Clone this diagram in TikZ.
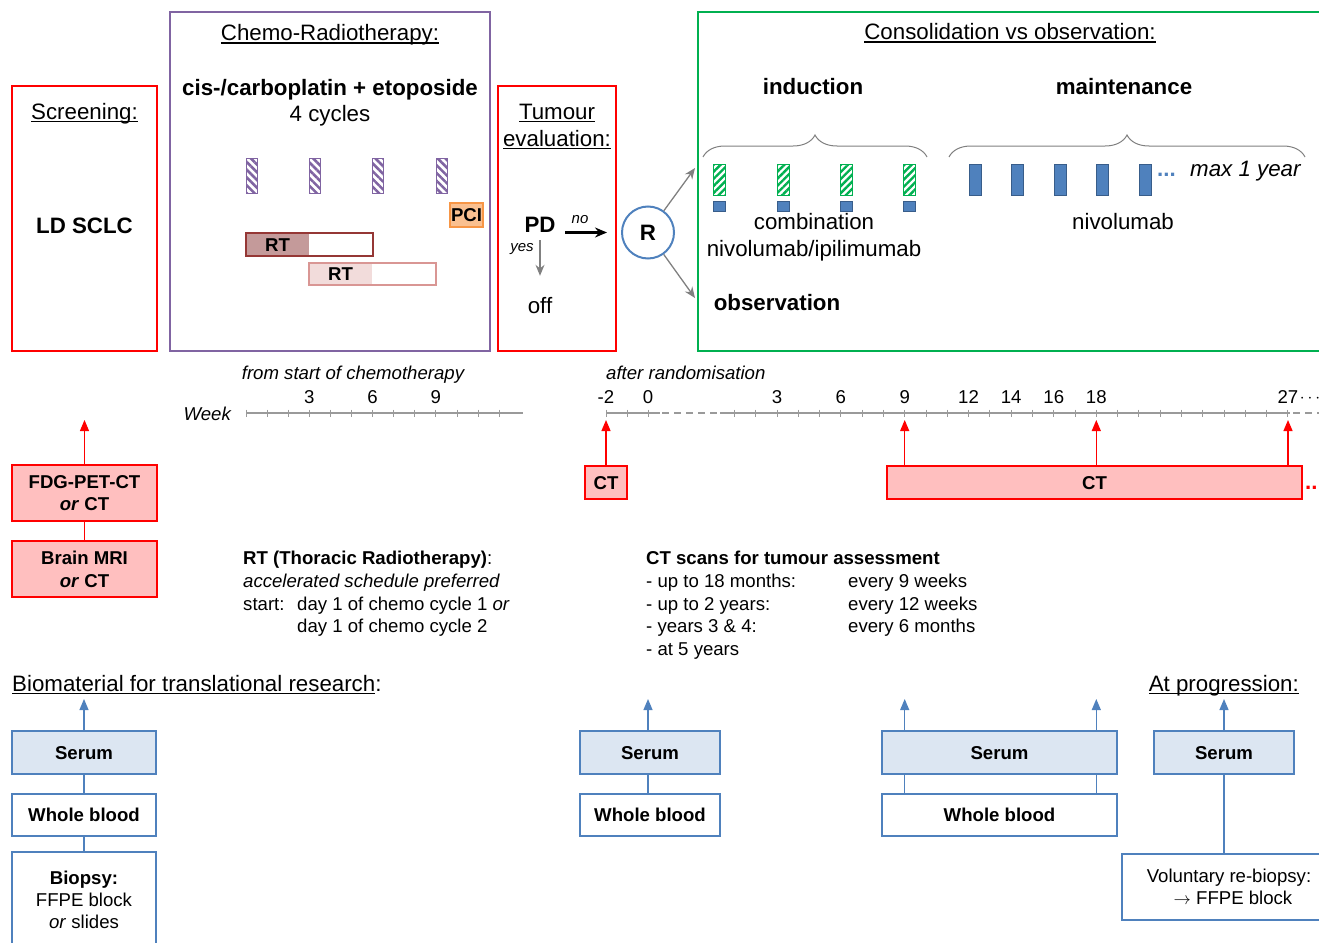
\documentclass[tikz,border=0pt]{standalone}
\usepackage{fontspec}
\setmainfont{Liberation Sans}
\usetikzlibrary{arrows.meta,patterns.meta,decorations.pathreplacing}

\definecolor{frred}{HTML}{FF0000}
\definecolor{frpurple}{HTML}{8064A2}
\definecolor{frgreen}{HTML}{00B050}
\definecolor{ctpink}{HTML}{FFBFBF}
\definecolor{bioblue}{HTML}{4F81BD}
\definecolor{serumfill}{HTML}{DCE6F2}
\definecolor{rtdark}{HTML}{C49A9A}
\definecolor{rtdarkline}{HTML}{953735}
\definecolor{rtlight}{HTML}{F2DCDB}
\definecolor{rtlightline}{HTML}{D99694}
\definecolor{pcifill}{HTML}{FAC090}
\definecolor{pciline}{HTML}{F79646}
\definecolor{barline}{HTML}{385D8A}
\definecolor{arrgray}{HTML}{808080}
\definecolor{axgray}{HTML}{9A9A9A}

\newcommand\fbig{\fontsize{22.3}{27}\selectfont}
\newcommand\fsmall{\fontsize{18.6}{22.7}\selectfont}
\newcommand\ftiny{\fontsize{15}{18}\selectfont}
\newcommand\undl[1]{\sbox0{#1}\rlap{\rule[-2.8pt]{\wd0}{1.3pt}}\usebox0}

\tikzset{
  txt/.style={inner sep=0pt, text height=16pt, text depth=0pt, font=\fbig},
  stxt/.style={inner sep=0pt, text height=13.3pt, text depth=0pt, font=\fsmall},
  phase/.style={draw, line width=2.5pt, inner sep=0pt},
  chemobar/.style={draw=frpurple, line width=1pt, minimum width=11, minimum height=35, inner sep=0pt,
    pattern={Lines[angle=-45,distance=5.5pt,line width=2.6pt]}, pattern color=frpurple},
  indbar/.style={draw=frgreen, line width=1pt, minimum width=12, minimum height=31, inner sep=0pt,
    pattern={Lines[angle=45,distance=5pt,line width=2.4pt]}, pattern color=frgreen},
  nivobar/.style={draw=barline, fill=bioblue, line width=0.8pt, minimum width=12, minimum height=31, inner sep=0pt},
  nivosq/.style={nivobar, minimum height=10},
  ctbox/.style={draw=frred, fill=ctpink, line width=1.3pt, stxt, font=\fsmall\bfseries, minimum height=33},
  scanbox/.style={draw=frred, fill=ctpink, line width=1.3pt, inner sep=0pt, font=\fsmall\bfseries,
    minimum width=145, minimum height=56, align=center},
  serum/.style={draw=bioblue, fill=serumfill, line width=1.2pt, stxt, font=\fsmall\bfseries, minimum height=43},
  blood/.style={draw=bioblue, fill=white, line width=1.2pt, stxt, font=\fsmall\bfseries, minimum height=42},
  biobox/.style={draw=bioblue, line width=1.2pt, inner sep=0pt, align=center, font=\fontsize{18.6}{22}\selectfont},
  redarr/.style={draw=frred, line width=1.2pt, -{Triangle[length=11pt,width=9pt]}},
  bioarr/.style={draw=bioblue, line width=1.2pt, -{Triangle[length=11pt,width=9pt]}},
  grayarr/.style={draw=arrgray, line width=1.3pt, -{Stealth[length=11pt,width=9pt]}},
  bioline/.style={draw=bioblue, line width=1.2pt},
  axisline/.style={draw=axgray, line width=2pt},
  gapline/.style={axisline, dash pattern=on 7pt off 5pt},
  tickmark/.style={draw=axgray, line width=0.9pt},
  curly/.style={draw=arrgray, line width=1pt, decorate, decoration={brace, amplitude=22pt}}
}

\begin{document}
\begin{tikzpicture}[x=1pt,y=-1pt]
\useasboundingbox (0,0) rectangle (1319,942);
\clip (0,0) rectangle (1319,942);

% phase frames
\node[phase, draw=frred, minimum width=145, minimum height=265] (scr) at (84.5,218.5) {};
\node[phase, draw=frpurple, minimum width=320, minimum height=339] (chemo) at (330,181.5) {};
\node[phase, draw=frred, minimum width=118, minimum height=265] (tumour) at (557,218.5) {};
\node[phase, draw=frgreen, minimum width=640, minimum height=339] (consol) at (1018,181.5) {};

% screening
\node[txt] (scrtitle) at (84.5,111) {\undl{Screening:}};
\node[txt, font=\fbig\bfseries] (ldsclc) at (84.5,225) {LD SCLC};

% chemo-radiotherapy
\node[txt] (chemotitle) at (330,33) {\undl{Chemo-Radiotherapy:}};
\node[txt, font=\fbig\bfseries] (regimen) at (330,87) {cis-/carboplatin + etoposide};
\node[txt] (cycles) at (330,113) {4 cycles};
\foreach \i/\x in {1/251.5,2/314.5,3/378,4/441.5}
  \node[chemobar] (c\i) at (\x,175.5) {};
\node[draw=pciline, fill=pcifill, line width=1.2pt, minimum width=33, minimum height=24, stxt, font=\fsmall\bfseries] (pci) at (466.5,215) {PCI};
\node[fill=rtdark, minimum width=63, minimum height=23, stxt, font=\fsmall\bfseries] (rt1) at (277.5,244.5) {RT};
\node[draw=rtdarkline, line width=1.3pt, minimum width=127, minimum height=23, inner sep=0pt] (rt1f) at (309.5,244.5) {};
\node[fill=rtlight, minimum width=63, minimum height=22, stxt, font=\fsmall\bfseries] (rt2) at (340.5,274) {RT};
\node[draw=rtlightline, line width=1.3pt, minimum width=127, minimum height=22, inner sep=0pt] (rt2f) at (372.5,274) {};

% tumour evaluation
\node[txt] (tumtitle1) at (557,111) {\undl{Tumour}};
\node[txt] (tumtitle2) at (557,138) {\undl{evaluation:}};
\node[txt, font=\fbig\bfseries] (pd) at (540,224) {PD};
\node[txt] (off) at (540,305) {off};
\node[circle, draw=bioblue, line width=2pt, minimum size=52, inner sep=0pt, font=\fbig\bfseries] (r) at (648,232.5) {R};
\draw[-{Stealth[length=12pt,width=10pt]}, line width=2.2pt, shorten <=9.5pt, shorten >=14pt] (pd.east |- r.center) -- (r.west);
\node[inner sep=0pt, font=\ftiny\itshape] (no) at (580,220) {no};
\draw[grayarr, shorten <=8pt, shorten >=21pt] (pd.south) -- (off.north);
\node[inner sep=0pt, font=\ftiny\itshape] (yes) at (522,249) {yes};
\coordinate (toind) at (695,168);
\coordinate (toobs) at (695,298);
\draw[grayarr] (r) -- (toind);
\draw[grayarr] (r) -- (toobs);

% consolidation vs observation
\node[txt] (consoltitle) at (1010,32) {\undl{Consolidation vs observation:}};
\node[txt, font=\fbig\bfseries] (induction) at (813,86) {induction};
\node[txt, font=\fbig\bfseries] (maintenance) at (1124,86) {maintenance};
\draw[curly] (703,157) -- (927,157);
\draw[curly] (949,157) -- (1305,157);
\foreach \i/\x in {1/719,2/783,3/846.5,4/909.5}{
  \node[indbar] (g\i) at (\x,179.5) {};
  \node[nivosq] (s\i) at (\x,206) {};
}
\foreach \i/\x in {1/975,2/1017.5,3/1060,4/1102,5/1145}
  \node[nivobar] (m\i) at (\x,179.5) {};
\node[anchor=base west, inner sep=0pt, font=\fbig\bfseries, text=bioblue] (dots) at (1157,176) {...};
\node[txt, anchor=west, font=\fbig\itshape] (maxyear) at (1190,168) {max 1 year};
\node[txt] (combi1) at (814,221) {combination};
\node[txt] (combi2) at (814,248) {nivolumab/ipilimumab};
\node[txt] (nivo) at (1123,221) {nivolumab};
\node[txt, font=\fbig\bfseries] (obs) at (777,302) {observation};

% time axes
\node[stxt, font=\fsmall\itshape] (fromstart) at (353,373) {from start of chemotherapy};
\node[stxt, font=\fsmall\itshape, anchor=west] (afterrand) at (606,373) {after randomisation};
\node[stxt, font=\fsmall\itshape, anchor=east] (week) at (231,414) {Week};
\draw[axisline] (246,413) -- (523,413);
\foreach \w in {0,...,12}
  \draw[tickmark] ({246+21.1*\w},409.5) -- ++(0,7);
\foreach \w in {3,6,9}
  \node[stxt] at ({246+21.1*\w},397) {\w};
\draw[axisline] (606,413) -- (660,413);
\draw[gapline] (662,413) -- (718,413);
\draw[axisline] (720,413) -- (1290,413);
\draw[gapline] (1293,413) -- (1325,413);
\foreach \x in {606,627,648}
  \draw[tickmark] (\x,409.5) -- ++(0,7);
\foreach \w in {1,...,27}
  \draw[tickmark] ({713.1+21.29*\w},409.5) -- ++(0,7);
\node[stxt] (lm2) at (606,397) {-2};
\node[stxt] (l0) at (648,397) {0};
\foreach \w in {3,6,9,12,14,16,18,27}
  \node[stxt] (l\w) at ({713.1+21.29*\w},397) {\w};
\node[inner sep=0pt, font=\fsmall] (ldots) at (1310,399) {$\cdots$};

% imaging
\coordinate (scrtop) at (84.5,420);
\coordinate (wm2) at (606,420);
\coordinate (w9) at (904.7,420);
\coordinate (w18) at (1096.3,420);
\coordinate (w27) at (1288,420);
\node[scanbox] (fdg) at (84.5,493) {FDG-PET-CT\\\textit{or} CT};
\node[scanbox] (mri) at (84.5,569) {Brain MRI\\\textit{or} CT};
\draw[draw=frred, line width=1.2pt] (fdg) -- (mri);
\draw[redarr] (fdg) -- (scrtop);
\node[ctbox, minimum width=42] (cta) at (606,482.5) {CT};
\draw[redarr] (cta) -- (wm2);
\node[ctbox, minimum width=415] (ctb) at (1094.5,482.5) {CT};
\draw[redarr] (ctb.north -| w9) -- (w9);
\draw[redarr] (ctb.north -| w18) -- (w18);
\draw[redarr] (ctb.north -| w27) -- (w27);
\node[anchor=base west, inner sep=0pt, font=\fbig\bfseries, text=frred] (ctdots) at (1305,489) {..};

% notes
\node[stxt, anchor=west] (rtn1) at (243,558) {\textbf{RT (Thoracic Radiotherapy)}:};
\node[stxt, anchor=west] (rtn2) at (243,581) {\textit{accelerated schedule preferred}};
\node[stxt, anchor=west] (rtn3) at (243,604) {start:};
\node[stxt, anchor=west] (rtn4) at (297,604) {day 1 of chemo cycle 1 \textit{or}};
\node[stxt, anchor=west] (rtn5) at (297,626) {day 1 of chemo cycle 2};
\node[stxt, anchor=west, font=\fsmall\bfseries] (ctn0) at (646,558) {CT scans for tumour assessment};
\foreach \i/\y/\a/\b in {1/581/{- up to 18 months:}/{every 9 weeks},
                          2/604/{- up to 2 years:}/{every 12 weeks},
                          3/626/{- years 3 \& 4:}/{every 6 months}}{
  \node[stxt, anchor=west] (ctn\i) at (646,\y) {\a};
  \node[stxt, anchor=west] (ctr\i) at (848,\y) {\b};
}
\node[stxt, anchor=west] (ctn4) at (646,649) {- at 5 years};

% biomaterial
\node[txt, anchor=west] (biotitle) at (12,683) {\undl{Biomaterial for translational research}:};
\node[txt, anchor=east] (progtitle) at (1299,683) {\undl{At progression:}};
\coordinate (b1) at (84,699);
\coordinate (b2) at (648,699);
\coordinate (b3) at (904.7,699);
\coordinate (b4) at (1096.3,699);
\coordinate (b5) at (1224,699);
\node[serum, minimum width=144] (se1) at (84,752.5) {Serum};
\node[blood, minimum width=144] (wb1) at (84,815) {Whole blood};
\node[biobox, minimum width=144, minimum height=96] (bio1) at (84,900) {\textbf{Biopsy:}\\FFPE block\\\textit{or} slides};
\draw[bioarr] (se1) -- (b1);
\draw[bioline] (se1) -- (wb1);
\draw[bioline] (wb1) -- (bio1);
\node[serum, minimum width=140] (se2) at (650,752.5) {Serum};
\node[blood, minimum width=140] (wb2) at (650,815) {Whole blood};
\draw[bioarr] (se2.north -| b2) -- (b2);
\draw[bioline] (se2.south -| b2) -- (wb2.north -| b2);
\node[serum, minimum width=235] (se3) at (999.5,752.5) {Serum};
\node[blood, minimum width=235] (wb3) at (999.5,815) {Whole blood};
\draw[bioarr] (se3.north -| b3) -- (b3);
\draw[bioarr] (se3.north -| b4) -- (b4);
\draw[bioline] (se3.south -| b3) -- (wb3.north -| b3);
\draw[bioline] (se3.south -| b4) -- (wb3.north -| b4);
\node[serum, minimum width=140] (se4) at (1224,752.5) {Serum};
\node[biobox, minimum width=214, minimum height=66] (rebio) at (1229,887) {Voluntary re-biopsy:\\\hspace*{8pt}$\rightarrow$ FFPE block};
\draw[bioarr] (se4) -- (b5);
\draw[bioline] (se4.south) -- (se4.south |- rebio.north);
\end{tikzpicture}
\end{document}
